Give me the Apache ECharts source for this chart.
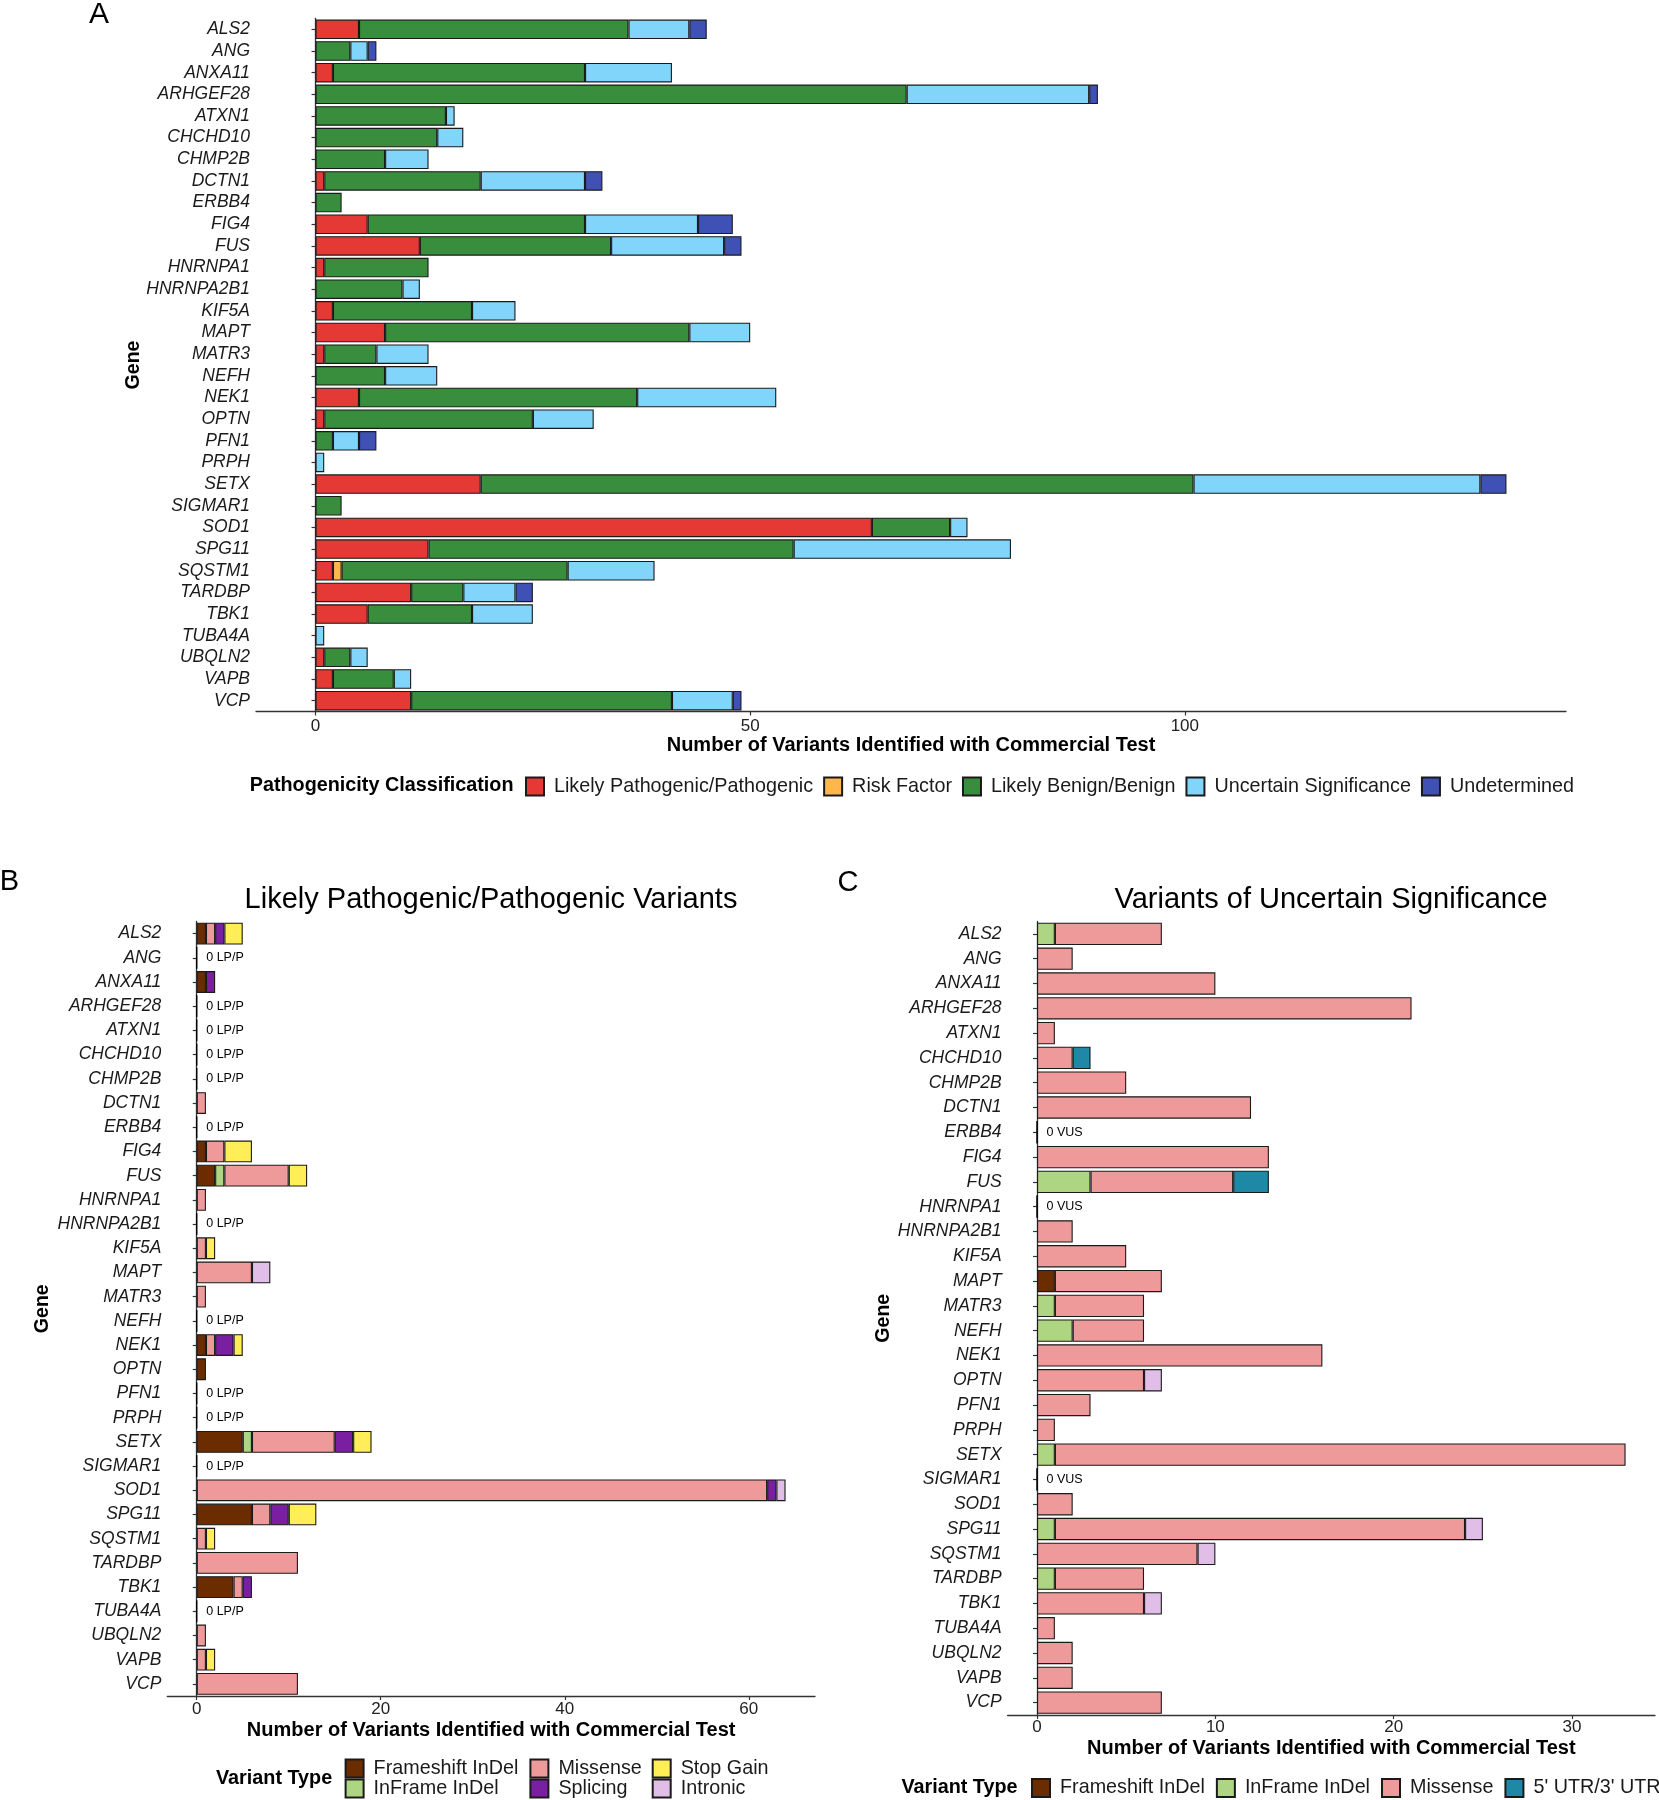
<!DOCTYPE html>
<html><head><meta charset="utf-8">
<script src="https://cdn.jsdelivr.net/npm/echarts@6/dist/echarts.min.js"></script>
<style>html,body{margin:0;padding:0;background:#fff}#chart{width:1659px;height:1800px}</style>
</head><body><div id="chart"></div>
<script>
// ---------- DATA ----------
const genes = ['ALS2','ANG','ANXA11','ARHGEF28','ATXN1','CHCHD10','CHMP2B','DCTN1','ERBB4','FIG4','FUS','HNRNPA1','HNRNPA2B1','KIF5A','MAPT','MATR3','NEFH','NEK1','OPTN','PFN1','PRPH','SETX','SIGMAR1','SOD1','SPG11','SQSTM1','TARDBP','TBK1','TUBA4A','UBQLN2','VAPB','VCP'];

// Panel A: pathogenicity classification counts
const classNames = ['Likely Pathogenic/Pathogenic','Risk Factor','Likely Benign/Benign','Uncertain Significance','Undetermined'];
const likelyPathogenic = [5,0,2,0,0,0,0,1,0,6,12,1,0,2,8,1,0,5,1,0,0,19,0,64,13,2,11,6,0,1,2,11];
const riskFactor       = [0,0,0,0,0,0,0,0,0,0,0,0,0,0,0,0,0,0,0,0,0,0,0,0,0,1,0,0,0,0,0,0];
const likelyBenign     = [31,4,29,68,15,14,8,18,3,25,22,12,10,16,35,6,8,32,24,2,0,82,3,9,42,26,6,12,0,3,7,30];
const uncertainSig     = [7,2,10,21,1,3,5,12,0,13,13,0,2,5,7,6,6,16,7,3,1,33,0,2,25,10,6,7,1,2,2,7];
const undetermined     = [2,1,0,1,0,0,0,2,0,4,2,0,0,0,0,0,0,0,0,2,0,3,0,0,0,0,2,0,0,0,0,1];

// Panel B: LP/P variants by type
const lpFrameshift = [1,0,1,0,0,0,0,0,0,1,2,0,0,0,0,0,0,1,1,0,0,5,0,0,6,0,0,4,0,0,0,0];
const lpInframe    = [0,0,0,0,0,0,0,0,0,0,1,0,0,0,0,0,0,0,0,0,0,1,0,0,0,0,0,0,0,0,0,0];
const lpMissense   = [1,0,0,0,0,0,0,1,0,2,7,1,0,1,6,1,0,1,0,0,0,9,0,62,2,1,11,1,0,1,1,11];
const lpSplicing   = [1,0,1,0,0,0,0,0,0,0,0,0,0,0,0,0,0,2,0,0,0,2,0,1,2,0,0,1,0,0,0,0];
const lpStopGain   = [2,0,0,0,0,0,0,0,0,3,2,0,0,1,0,0,0,1,0,0,0,2,0,0,3,1,0,0,0,0,1,0];
const lpIntronic   = [0,0,0,0,0,0,0,0,0,0,0,0,0,0,2,0,0,0,0,0,0,0,0,1,0,0,0,0,0,0,0,0];

// Panel C: VUS by type
const vusFrameshift = [0,0,0,0,0,0,0,0,0,0,0,0,0,0,1,0,0,0,0,0,0,0,0,0,0,0,0,0,0,0,0,0];
const vusInframe    = [1,0,0,0,0,0,0,0,0,0,3,0,0,0,0,1,2,0,0,0,0,1,0,0,1,0,1,0,0,0,0,0];
const vusMissense   = [6,2,10,21,1,2,5,12,0,13,8,0,2,5,6,5,4,16,6,3,1,32,0,2,23,9,5,6,1,2,2,7];
const vusIntronic   = [0,0,0,0,0,0,0,0,0,0,0,0,0,0,0,0,0,0,1,0,0,0,0,0,1,1,0,1,0,0,0,0];
const vusUtr        = [0,0,0,0,0,1,0,0,0,0,2,0,0,0,0,0,0,0,0,0,0,0,0,0,0,0,0,0,0,0,0,0];

const ticksA = [0,50,100];
const ticksB = [0,20,40,60];
const ticksC = [0,10,20,30];

// ---------- STYLE ----------
const FONT = '"Liberation Sans", Arial, Helvetica, sans-serif';
const colA = ['#E53935','#FFB74D','#388E3C','#81D4FA','#3F51B5'];
const COL = {fs:'#6B2C00', inf:'#AED581', mis:'#EF9A9A', spl:'#7B1FA2', stop:'#FFEE58', intr:'#E1BEE7', utr:'#1F88A6'};
const BORDER = '#1a1a1a';

function nz(a){ return a.map(v => v === 0 ? null : v); }
function totals(arrs){ return genes.map((g,i) => arrs.reduce((s,a)=>s+a[i],0)); }
function bar(name, data, color, idx, stack){
  return {type:'bar', name, data:nz(data), stack, xAxisIndex:idx, yAxisIndex:idx,
    barCategoryGap:'10%', itemStyle:{color, borderColor:BORDER, borderWidth:1.1}, emphasis:{disabled:true}};
}
function zeroSeries(arrs, idx, stack, text){
  const t = totals(arrs);
  return {type:'bar', name:'zero'+idx, data:t.map(v => v === 0 ? 0 : null), stack, xAxisIndex:idx, yAxisIndex:idx,
    barCategoryGap:'10%', itemStyle:{color:'rgba(0,0,0,0)', borderColor:'#000', borderWidth:1},
    label:{show:true, position:'right', distance:9, formatter:text, fontFamily:FONT, fontSize:12.5, color:'#000'},
    emphasis:{disabled:true}};
}

const arrA = [likelyPathogenic, riskFactor, likelyBenign, uncertainSig, undetermined];
const arrB = [lpFrameshift, lpInframe, lpMissense, lpSplicing, lpStopGain, lpIntronic];
const arrC = [vusFrameshift, vusInframe, vusMissense, vusIntronic, vusUtr];
function range(arrs){ const m = Math.max(...totals(arrs)); return [-0.05*m, 1.05*m]; }
const rA = range(arrA), rB = range(arrB), rC = range(arrC);

function xAxis(idx, r, ticks, nameGap, margin){
  return {gridIndex:idx, type:'value', min:r[0], max:r[1],
    axisLine:{show:true, onZero:false, lineStyle:{color:'#333', width:1.3}},
    axisTick:{show:true, customValues:ticks, length:4, lineStyle:{color:'#333', width:1.2}},
    axisLabel:{customValues:ticks, fontFamily:FONT, fontSize:17, color:'#222', margin},
    splitLine:{show:false},
    name:'Number of Variants Identified with Commercial Test', nameLocation:'middle', nameGap,
    nameMoveOverlap:false,
    nameTextStyle:{fontFamily:FONT, fontWeight:'bold', fontSize:20, color:'#000'}};
}
function yAxis(idx, nameGap){
  return {gridIndex:idx, type:'category', data:genes, inverse:true,
    axisLine:{show:true, lineStyle:{color:'#333', width:1.3}},
    axisTick:{show:true, alignWithLabel:true, length:4, lineStyle:{color:'#333', width:1.2}},
    axisLabel:{fontFamily:FONT, fontStyle:'italic', fontSize:17.5, color:'#1a1a1a', margin:6, interval:0},
    splitLine:{show:false},
    name:'Gene', nameLocation:'middle', nameRotate:90, nameGap, nameMoveOverlap:false,
    nameTextStyle:{fontFamily:FONT, fontWeight:'bold', fontSize:19.5, color:'#000'}};
}
const legendText = {fontFamily:FONT, fontSize:19.75, color:'#1a1a1a', lineHeight:18, padding:[0,0,0,5]};
function legend(data, left, top, orient, gap){
  return {data, left, top, orient, itemGap:gap, itemWidth:18, itemHeight:18, icon:'rect', padding:0,
    width:1400, height:60, selectedMode:false, textStyle:legendText};
}

const series = [];
classNames.forEach((n,i) => series.push(bar(n, arrA[i], colA[i], 0, 'A')));
const bNames = ['Frameshift InDel','InFrame InDel','Missense','Splicing','Stop Gain','Intronic'];
const bCols = [COL.fs, COL.inf, COL.mis, COL.spl, COL.stop, COL.intr];
bNames.forEach((n,i) => series.push(bar(n, arrB[i], bCols[i], 1, 'B')));
series.push(zeroSeries(arrB, 1, 'B', '0 LP/P'));
const cNames = ['Frameshift InDel','InFrame InDel','Missense','Intronic',"5' UTR/3' UTR"];
const cCols = [COL.fs, COL.inf, COL.mis, COL.intr, COL.utr];
cNames.forEach((n,i) => series.push(bar(n, arrC[i], cCols[i], 2, 'C')));
series.push(zeroSeries(arrC, 2, 'C', '0 VUS'));

const txt = (text, x, y, size, weight, align) => ({type:'text', x, y, style:{text, fontFamily:FONT, fontSize:size,
  fontWeight:weight||'normal', fill:'#000', textAlign:align||'center', textVerticalAlign:'middle'}});

const option = {
  animation:false,
  backgroundColor:'#fff',
  grid:[
    {left:256, right:93, top:18.5, bottom:1800-711.5, containLabel:false},
    {left:167.3, right:1659-815, top:921.5, bottom:1800-1696, containLabel:false},
    {left:1007.6, right:4, top:921.5, bottom:1800-1715, containLabel:false}
  ],
  xAxis:[xAxis(0, rA, ticksA, 24, 6), xAxis(1, rB, ticksB, 24, 5), xAxis(2, rC, ticksC, 23, 4)],
  yAxis:[yAxis(0, 112), yAxis(1, 115), yAxis(2, 114)],
  legend:[
    legend(classNames, 525, 776.5, 'horizontal', 10),
    legend(['Frameshift InDel','InFrame InDel'], 344.6, 1758.5, 'vertical', 0),
    legend(['Missense','Splicing'], 529.4, 1758.5, 'vertical', 0),
    legend(['Stop Gain','Intronic'], 651.7, 1758.5, 'vertical', 0),
    legend(['Frameshift InDel','InFrame InDel','Missense',"5' UTR/3' UTR"], 1031, 1778, 'horizontal', 11)
  ],
  graphic:[
    txt('A', 99, 15, 30),
    txt('B', 9.5, 882, 29),
    txt('C', 848, 882.5, 29),
    txt('Likely Pathogenic/Pathogenic Variants', 491, 899.5, 29),
    txt('Variants of Uncertain Significance', 1331, 899.5, 29),
    txt('Pathogenicity Classification', 249.7, 785.5, 19.8, 'bold', 'left'),
    txt('Variant Type', 216, 1778.5, 19.8, 'bold', 'left'),
    txt('Variant Type', 901.4, 1787.5, 19.8, 'bold', 'left')
  ],
  series
};
const chart = echarts.init(document.getElementById('chart'), null, {renderer:'canvas'});
chart.setOption(option);
</script></body></html>
